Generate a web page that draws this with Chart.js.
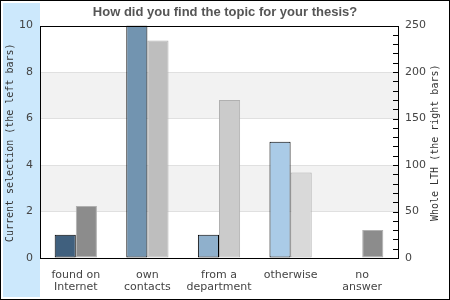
<!DOCTYPE html>
<html>
<head>
<meta charset="utf-8">
<script src="https://cdn.jsdelivr.net/npm/chart.js@4"></script>
<style>
  html, body { margin: 0; padding: 0; background: #fff; }
  #wrap { width: 450px; height: 300px; position: relative; }
</style>
</head>
<body>
<div id="wrap"><canvas id="c" width="450" height="300"></canvas></div>
<script>
// ── DATA ──────────────────────────────────────────
const categories   = [['found on', 'Internet'], ['own', 'contacts'], ['from a', 'department'], 'otherwise', ['no', 'answer']];
const currentSel   = [1, 10, 1, 5, 0];        // left axis
const wholeLTH     = [56, 234, 170, 92, 30];  // right axis
const leftTicks    = [0, 2, 4, 6, 8, 10];
const rightMax     = 250;

const LEFT_COLORS  = ['#40607e', '#7294b0', '#8fb0cc', '#aacbe7', '#aacbe7'];
const RIGHT_COLORS = ['#8c8c8c', '#bebebe', '#cbcbcb', '#d9d9d9', '#8c8c8c'];

// ── BACKGROUND / FRAME / TITLES PLUGIN ────────────
const decor = {
  id: 'decor',
  beforeDraw(chart) {
    const ctx = chart.ctx;
    const { left, right, top, bottom } = chart.chartArea;
    const y = chart.scales.y;
    ctx.save();
    ctx.fillStyle = '#fff';
    ctx.fillRect(0, 0, 450, 300);
    ctx.fillStyle = '#cce8fc';
    ctx.fillRect(3, 3, left - 3, 294);
    // alternating bands
    ctx.fillStyle = '#f2f2f2';
    [[2, 4], [6, 8]].forEach(([a, b]) => {
      const y1 = y.getPixelForValue(b), y2 = y.getPixelForValue(a);
      ctx.fillRect(left, y1, right - left, y2 - y1);
    });
    ctx.restore();
  },
  afterDraw(chart) {
    const ctx = chart.ctx;
    const { left, right, top, bottom } = chart.chartArea;
    const y2 = chart.scales.y2;
    ctx.save();
    ctx.strokeStyle = '#000';
    ctx.lineWidth = 1;
    ctx.strokeRect(Math.round(left) + 0.5, Math.round(top) + 0.5, Math.round(right - left), Math.round(bottom - top));
    // right axis minor ticks pointing inwards
    ctx.beginPath();
    for (let v = 0; v <= rightMax; v += 10) {
      const py = Math.round(y2.getPixelForValue(v)) + 0.5;
      ctx.moveTo(Math.round(right) - 5, py);
      ctx.lineTo(Math.round(right), py);
    }
    ctx.stroke();
    // axis titles, both reading bottom to top
    ctx.fillStyle = '#333';
    ctx.font = '10px "DejaVu Sans Mono", monospace';
    ctx.textAlign = 'center';
    ctx.textBaseline = 'middle';
    const mid = (top + bottom) / 2 + 1;
    ctx.translate(10, mid);
    ctx.rotate(-Math.PI / 2);
    ctx.fillText('Current selection (the left bars)', 0, 0);
    ctx.setTransform(1, 0, 0, 1, 0, 0);
    ctx.translate(435, mid);
    ctx.rotate(-Math.PI / 2);
    ctx.fillText('Whole LTH (the right bars)', 0, 0);
    ctx.setTransform(1, 0, 0, 1, 0, 0);
    // outer border
    ctx.strokeRect(0.5, 0.5, 449, 299);
    ctx.restore();
  }
};

new Chart(document.getElementById('c'), {
  type: 'bar',
  data: {
    labels: categories,
    datasets: [
      {
        label: 'Current selection',
        data: currentSel,
        yAxisID: 'y',
        backgroundColor: LEFT_COLORS,
        borderColor: '#000',
        borderWidth: 1,
        borderSkipped: false,
        categoryPercentage: 0.59,
        barPercentage: 1
      },
      {
        label: 'Whole LTH',
        data: wholeLTH,
        yAxisID: 'y2',
        backgroundColor: RIGHT_COLORS,
        borderColor: '#b0b0b0',
        borderWidth: 1,
        borderSkipped: false,
        categoryPercentage: 0.59,
        barPercentage: 1
      }
    ]
  },
  options: {
    responsive: false,
    animation: false,
    devicePixelRatio: 1,
    layout: { padding: { left: 3, right: 3, top: 1, bottom: 3 } },
    plugins: {
      legend: { display: false },
      tooltip: { enabled: false },
      title: {
        display: true,
        text: 'How did you find the topic for your thesis?',
        color: '#555',
        font: { size: 13, weight: 'bold', family: '"Liberation Sans", Arial, sans-serif' },
        padding: { top: 4, bottom: 5 }
      }
    },
    scales: {
      x: {
        grid: { display: false, drawTicks: false },
        border: { display: false },
        ticks: {
          color: '#444',
          font: { size: 11, family: '"DejaVu Sans", sans-serif', lineHeight: 1.1 },
          padding: 11,
          maxRotation: 0,
          autoSkip: false
        },
        afterFit(s) { s.height = 39; }
      },
      y: {
        position: 'left',
        min: 0, max: 10,
        afterBuildTicks(s) { s.ticks = leftTicks.map(v => ({ value: v })); },
        grid: {
          drawTicks: false,
          color: ctx => (ctx.tick && (ctx.tick.value === 0 || ctx.tick.value === 10)) ? 'rgba(0,0,0,0)' : '#e0e0e0'
        },
        border: { display: false },
        ticks: {
          color: '#444',
          font: { size: 11, family: '"DejaVu Sans", sans-serif' },
          padding: 7
        },
        afterFit(s) { s.width = 37; }
      },
      y2: {
        position: 'right',
        min: 0, max: rightMax,
        grid: { drawOnChartArea: false, drawTicks: false },
        border: { display: false },
        ticks: {
          stepSize: 50,
          color: '#444',
          font: { size: 11, family: '"DejaVu Sans", sans-serif' },
          padding: 7
        },
        afterFit(s) { s.width = 49; }
      }
    }
  },
  plugins: [decor]
});
</script>
</body>
</html>
